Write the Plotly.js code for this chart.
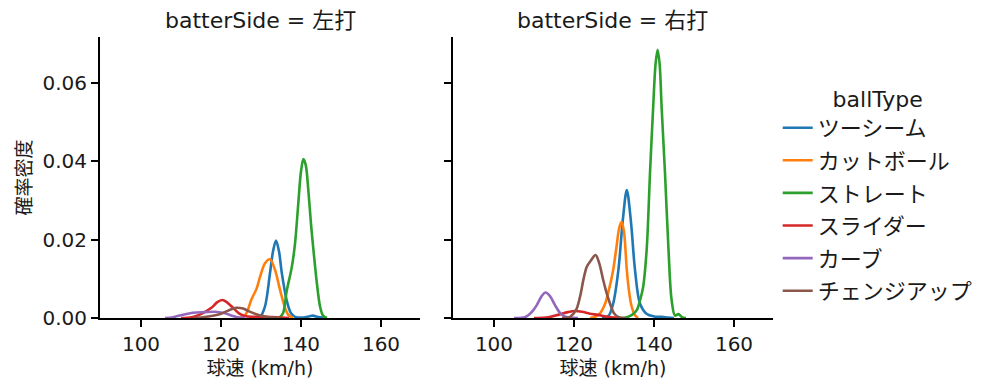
<!DOCTYPE html>
<html>
<head>
<meta charset="utf-8">
<script src="https://cdn.plot.ly/plotly-3.0.1.min.js"></script>
<style>html,body{margin:0;padding:0;background:#fff;}#chart{width:999px;height:391px;}</style>
</head>
<body>
<div id="chart"></div>
<script>
// ---- Data ----
const ballTypes = ["ツーシーム", "カットボール", "ストレート", "スライダー", "カーブ", "チェンジアップ"];
const panelTitles = ["batterSide = 左打", "batterSide = 右打"];
const xTickVals = [100, 120, 140, 160];
const yTickVals = [0, 0.02, 0.04, 0.06];
const yTickText = ["0.00", "0.02", "0.04", "0.06"];

// Left panel (左打)
const L_twoSeam_x = [128, 129.75, 131, 132.25, 133, 133.75, 134.5, 135.2, 136.4, 137.5, 138.5, 140, 142, 143, 144, 146];
const L_twoSeam_y = [0, 0.0003, 0.003, 0.0115, 0.017, 0.0198, 0.017, 0.0115, 0.0046, 0.0012, 0.0003, 0.0001, 0.0004, 0.0006, 0.0003, 0];
const L_cutter_x = [124.5, 125.6, 126.5, 127.5, 128.3, 128.9, 129.75, 131, 132.25, 133.5, 134.75, 136, 136.8, 138];
const L_cutter_y = [0, 0.0003, 0.0015, 0.0045, 0.0062, 0.0075, 0.0105, 0.014, 0.015, 0.0123, 0.0072, 0.0026, 0.0008, 0];
const L_straight_x = [134.5, 135.5, 136.4, 137.7, 138.5, 139.3, 140, 140.6, 141.2, 141.8, 142.5, 143.1, 143.9, 144.75, 145.5, 146.5];
const L_straight_y = [0, 0.0012, 0.0068, 0.013, 0.019, 0.029, 0.0375, 0.0406, 0.039, 0.033, 0.024, 0.0175, 0.0095, 0.003, 0.0006, 0];
const L_slider_x = [110, 112.7, 115, 117.6, 119, 120.3, 121.5, 123, 124.5, 126, 128, 131, 134, 137];
const L_slider_y = [0, 0.0002, 0.001, 0.0026, 0.004, 0.0046, 0.004, 0.0026, 0.0012, 0.0005, 0.0003, 0.0003, 0.0002, 0];
const L_curve_x = [106, 108, 110, 113, 116, 118.5, 120, 121.4, 123, 124.5, 126];
const L_curve_y = [0, 0.0002, 0.0007, 0.00135, 0.0015, 0.0016, 0.0014, 0.0011, 0.0005, 0.0001, 0];
const L_change_x = [113, 115.5, 118, 120, 122, 123.9, 125.5, 127, 129, 131, 133, 135];
const L_change_y = [0, 0.0002, 0.0006, 0.0011, 0.002, 0.0026, 0.0024, 0.0017, 0.0009, 0.0004, 0.0001, 0];

// Right panel (右打)
const R_twoSeam_x = [127, 128.6, 129.8, 131.1, 132.2, 133.2, 134.2, 135.25, 136.5, 138.2, 140, 142, 143.5, 145];
const R_twoSeam_y = [0, 0.0005, 0.0037, 0.0123, 0.025, 0.0327, 0.025, 0.0123, 0.0037, 0.001, 0.0004, 0.0003, 0.0001, 0];
const R_cutter_x = [124, 125.5, 126.5, 127.8, 128.8, 129.8, 130.6, 131.3, 131.9, 132.5, 133.2, 133.8, 134.4, 135.2, 136];
const R_cutter_y = [0, 0.0004, 0.0012, 0.0037, 0.0075, 0.0123, 0.018, 0.023, 0.0246, 0.022, 0.0123, 0.0065, 0.003, 0.0008, 0];
const R_straight_x = [132, 133.2, 134.5, 135.7, 136.5, 137.3, 138.2, 139, 139.8, 140.4, 140.9, 141.4, 141.9, 142.75, 143.6, 144.4, 145.25, 146.1, 147, 148];
const R_straight_y = [0, 0.0002, 0.0008, 0.002, 0.0045, 0.008, 0.018, 0.037, 0.054, 0.065, 0.0685, 0.065, 0.054, 0.037, 0.018, 0.0046, 0.0006, 0.001, 0.0002, 0];
const R_slider_x = [110, 113.6, 116, 118.5, 120.25, 122, 124, 126, 128, 130, 132];
const R_slider_y = [0, 0.0002, 0.0008, 0.0015, 0.0018, 0.0016, 0.0011, 0.0008, 0.0004, 0.0001, 0];
const R_curve_x = [105, 107.75, 109.5, 110.7, 112, 112.9, 114, 115.25, 116.5, 117.5, 119, 121];
const R_curve_y = [0, 0.0002, 0.0016, 0.0033, 0.0057, 0.0065, 0.0056, 0.0033, 0.0013, 0.0005, 0.0001, 0];
const R_change_x = [117, 119, 120.5, 121.5, 122.4, 123.2, 124.3, 125.4, 126.3, 127.3, 128.2, 129, 130, 131, 133];
const R_change_y = [0, 0.0003, 0.002, 0.0054, 0.01, 0.0131, 0.0148, 0.0161, 0.014, 0.0097, 0.0062, 0.0037, 0.0012, 0.0003, 0];

const colors = ["#1f77b4", "#ff7f0e", "#2ca02c", "#d62728", "#9467bd", "#8c564b"];

const leftSeries = [[L_twoSeam_x, L_twoSeam_y], [L_cutter_x, L_cutter_y], [L_straight_x, L_straight_y],
                    [L_slider_x, L_slider_y], [L_curve_x, L_curve_y], [L_change_x, L_change_y]];
const rightSeries = [[R_twoSeam_x, R_twoSeam_y], [R_cutter_x, R_cutter_y], [R_straight_x, R_straight_y],
                     [R_slider_x, R_slider_y], [R_curve_x, R_curve_y], [R_change_x, R_change_y]];

const FONT = '"DejaVu Sans", "Noto Sans CJK JP", sans-serif';
const TXT = '#1a1a1a';

const traces = [];
leftSeries.forEach((s, i) => {
  traces.push({x: s[0], y: s[1], xaxis: 'x', yaxis: 'y', type: 'scatter', mode: 'lines',
    line: {color: colors[i], width: 2.6, shape: 'spline', smoothing: 0.9},
    name: ballTypes[i], legendgroup: 'g' + i, showlegend: false, hoverinfo: 'skip'});
});
rightSeries.forEach((s, i) => {
  traces.push({x: s[0], y: s[1], xaxis: 'x2', yaxis: 'y2', type: 'scatter', mode: 'lines',
    line: {color: colors[i], width: 2.6, shape: 'spline', smoothing: 0.9},
    name: ballTypes[i], legendgroup: 'g' + i, showlegend: true, hoverinfo: 'skip'});
});

const xCommon = {range: [89.75, 169.75], showgrid: false, zeroline: false, showline: true, linecolor: '#000', linewidth: 2,
  ticks: 'outside', ticklen: 7, tickwidth: 2, tickcolor: '#000', tickvals: xTickVals,
  tickfont: {family: FONT, size: 20, color: TXT}, fixedrange: true};
const yCommon = {range: [0, 0.0718], showgrid: false, zeroline: false, showline: true, linecolor: '#000', linewidth: 2,
  ticks: 'outside', ticklen: 7, tickwidth: 2, tickcolor: '#000', tickvals: yTickVals, ticktext: yTickText,
  tickfont: {family: FONT, size: 20, color: TXT}, fixedrange: true};

const layout = {
  width: 999, height: 391, autosize: false,
  margin: {l: 100, r: 226, t: 37, b: 73},
  paper_bgcolor: '#fff', plot_bgcolor: '#fff',
  font: {family: FONT, color: TXT},
  showlegend: true,
  xaxis: Object.assign({}, xCommon, {domain: [0, 0.4755], anchor: 'y',
    title: {text: '球速 (km/h)', font: {family: FONT, size: 19, color: TXT}, standoff: 7}}),
  xaxis2: Object.assign({}, xCommon, {domain: [0.5245, 1], anchor: 'y2',
    title: {text: '球速 (km/h)', font: {family: FONT, size: 19, color: TXT}, standoff: 7}}),
  yaxis: Object.assign({}, yCommon, {domain: [0, 1], anchor: 'x',
    title: {text: '確率密度', font: {family: FONT, size: 19, color: TXT}, standoff: 6}}),
  yaxis2: Object.assign({}, yCommon, {domain: [0, 1], anchor: 'x2', showticklabels: false}),
  legend: {x: 1.007, y: 0.853, xanchor: 'left', yanchor: 'top', traceorder: 'grouped', tracegroupgap: 1,
    font: {family: FONT, size: 22, color: TXT}, bgcolor: 'rgba(0,0,0,0)', borderwidth: 0,
    title: {text: 'ballType', side: 'top center', font: {family: FONT, size: 22, color: TXT}}},
  annotations: [
    {text: panelTitles[0], xref: 'x domain', yref: 'paper', x: 0.5, y: 1.06, xanchor: 'center', yanchor: 'middle',
     showarrow: false, font: {family: FONT, size: 22, color: TXT}},
    {text: panelTitles[1], xref: 'x2 domain', yref: 'paper', x: 0.5, y: 1.06, xanchor: 'center', yanchor: 'middle',
     showarrow: false, font: {family: FONT, size: 22, color: TXT}}
  ]
};

Plotly.newPlot('chart', traces, layout, {staticPlot: true, displayModeBar: false});
</script>
</body>
</html>
